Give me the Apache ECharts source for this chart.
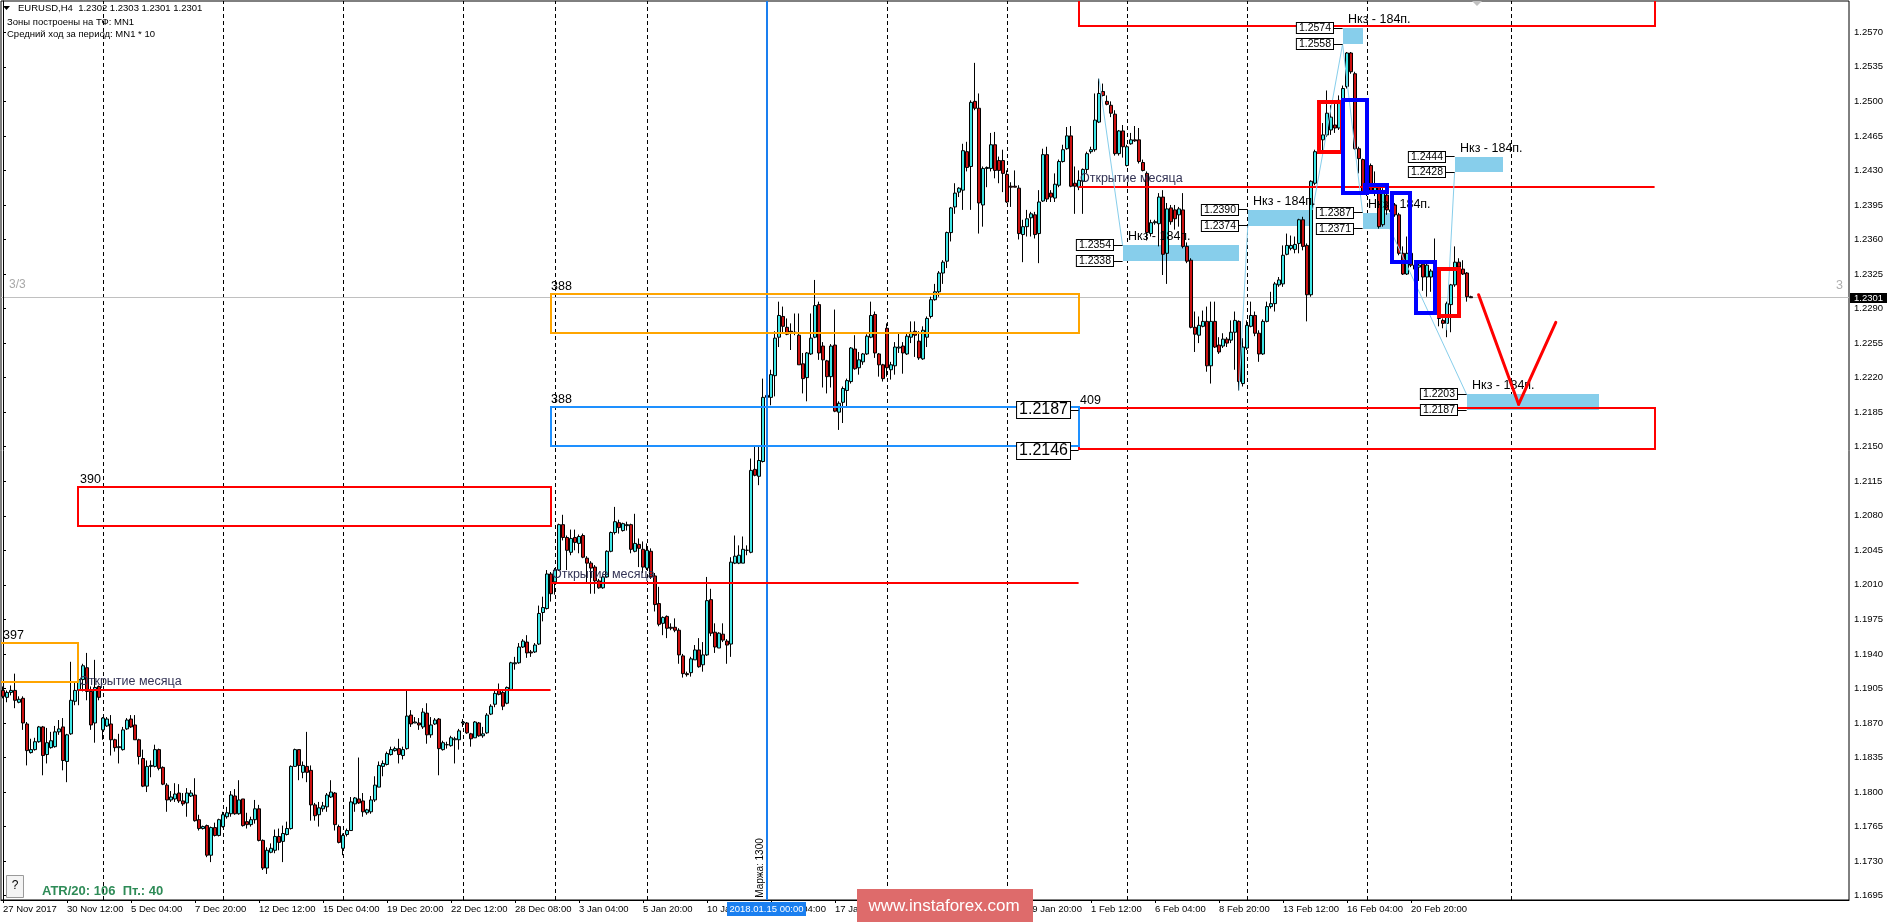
<!DOCTYPE html>
<html>
<head>
<meta charset="utf-8">
<title>EURUSD,H4</title>
<script src="https://cdn.jsdelivr.net/npm/echarts@6/dist/echarts.min.js"></script>
<style>
  html, body { margin: 0; padding: 0; background: #fff; }
  #chart { width: 1890px; height: 922px; }
</style>
</head>
<body>
<div id="chart"></div>
<script>
// EURUSD H4 bars, one row per bar: [open, high, low, close]
const ohlc = [
  [1.1903,1.1907,1.1895,1.1897],[1.1896,1.1903,1.1891,1.1901],[1.1901,1.1908,1.1898,1.1903],[1.1903,1.1920,1.1885,1.1893],[1.1891,1.1897,1.1890,1.1894],[1.1895,1.1897,1.1863,1.1870],
  [1.1869,1.1871,1.1827,1.1842],[1.1840,1.1854,1.1839,1.1843],[1.1843,1.1855,1.1842,1.1851],[1.1851,1.1867,1.1850,1.1866],[1.1866,1.1867,1.1817,1.1837],[1.1838,1.1865,1.1829,1.1850],
  [1.1845,1.1861,1.1844,1.1852],[1.1846,1.1867,1.1845,1.1861],[1.1861,1.1873,1.1858,1.1864],[1.1866,1.1875,1.1822,1.1832],[1.1831,1.1859,1.1810,1.1858],[1.1859,1.1932,1.1858,1.1893],
  [1.1892,1.1912,1.1888,1.1903],[1.1903,1.1920,1.1888,1.1914],[1.1914,1.1930,1.1902,1.1928],[1.1926,1.1941,1.1893,1.1902],[1.1902,1.1907,1.1863,1.1868],[1.1870,1.1934,1.1850,1.1906],
  [1.1907,1.1908,1.1893,1.1896],[1.1863,1.1876,1.1853,1.1875],[1.1867,1.1876,1.1866,1.1874],[1.1869,1.1878,1.1837,1.1853],[1.1853,1.1854,1.1841,1.1845],[1.1845,1.1859,1.1829,1.1846],
  [1.1843,1.1866,1.1842,1.1863],[1.1864,1.1875,1.1863,1.1873],[1.1874,1.1878,1.1865,1.1866],[1.1868,1.1878,1.1853,1.1853],[1.1853,1.1854,1.1828,1.1836],[1.1834,1.1843,1.1805,1.1806],
  [1.1806,1.1832,1.1800,1.1826],[1.1826,1.1832,1.1815,1.1827],[1.1826,1.1848,1.1825,1.1843],[1.1843,1.1844,1.1822,1.1824],[1.1825,1.1826,1.1807,1.1808],[1.1807,1.1809,1.1780,1.1792],
  [1.1792,1.1801,1.1790,1.1795],[1.1793,1.1809,1.1790,1.1798],[1.1799,1.1808,1.1789,1.1791],[1.1791,1.1799,1.1786,1.1788],[1.1789,1.1804,1.1775,1.1799],[1.1796,1.1802,1.1795,1.1799],
  [1.1797,1.1814,1.1770,1.1771],[1.1772,1.1777,1.1761,1.1763],[1.1763,1.1766,1.1762,1.1765],[1.1766,1.1767,1.1734,1.1736],[1.1736,1.1765,1.1729,1.1764],[1.1764,1.1769,1.1755,1.1756],
  [1.1756,1.1773,1.1755,1.1772],[1.1765,1.1780,1.1764,1.1777],[1.1775,1.1785,1.1773,1.1779],[1.1778,1.1801,1.1775,1.1797],[1.1796,1.1803,1.1777,1.1778],[1.1778,1.1812,1.1777,1.1792],
  [1.1793,1.1793,1.1765,1.1766],[1.1770,1.1779,1.1763,1.1767],[1.1767,1.1775,1.1765,1.1772],[1.1772,1.1792,1.1768,1.1783],[1.1783,1.1787,1.1750,1.1751],[1.1751,1.1752,1.1721,1.1723],
  [1.1723,1.1744,1.1717,1.1741],[1.1739,1.1748,1.1738,1.1743],[1.1741,1.1762,1.1738,1.1755],[1.1755,1.1763,1.1741,1.1749],[1.1750,1.1766,1.1729,1.1758],[1.1757,1.1770,1.1756,1.1763],
  [1.1763,1.1827,1.1762,1.1826],[1.1826,1.1844,1.1826,1.1843],[1.1843,1.1843,1.1812,1.1827],[1.1820,1.1831,1.1814,1.1827],[1.1826,1.1861,1.1810,1.1820],[1.1822,1.1827,1.1771,1.1787],
  [1.1787,1.1789,1.1771,1.1776],[1.1777,1.1790,1.1765,1.1784],[1.1783,1.1790,1.1780,1.1786],[1.1785,1.1799,1.1780,1.1797],[1.1795,1.1812,1.1794,1.1800],[1.1799,1.1800,1.1761,1.1767],
  [1.1765,1.1767,1.1748,1.1749],[1.1743,1.1758,1.1736,1.1756],[1.1757,1.1763,1.1755,1.1761],[1.1761,1.1795,1.1761,1.1790],[1.1788,1.1795,1.1780,1.1794],[1.1793,1.1835,1.1788,1.1789],
  [1.1791,1.1799,1.1775,1.1780],[1.1779,1.1783,1.1777,1.1782],[1.1780,1.1796,1.1778,1.1792],[1.1792,1.1816,1.1790,1.1807],[1.1805,1.1831,1.1805,1.1827],[1.1826,1.1832,1.1816,1.1829],
  [1.1828,1.1841,1.1827,1.1839],[1.1838,1.1846,1.1837,1.1843],[1.1842,1.1846,1.1841,1.1844],[1.1844,1.1854,1.1829,1.1838],[1.1837,1.1846,1.1833,1.1843],[1.1844,1.1903,1.1843,1.1877],
  [1.1878,1.1883,1.1866,1.1869],[1.1870,1.1876,1.1870,1.1871],[1.1870,1.1875,1.1863,1.1868],[1.1866,1.1885,1.1864,1.1881],[1.1880,1.1890,1.1849,1.1858],[1.1858,1.1876,1.1855,1.1868],
  [1.1869,1.1875,1.1868,1.1873],[1.1874,1.1875,1.1817,1.1844],[1.1843,1.1852,1.1842,1.1850],[1.1848,1.1851,1.1844,1.1848],[1.1847,1.1857,1.1846,1.1855],[1.1853,1.1856,1.1829,1.1854],
  [1.1853,1.1864,1.1843,1.1862],[1.1870,1.1874,1.1866,1.1871],[1.1870,1.1871,1.1859,1.1860],[1.1859,1.1860,1.1846,1.1854],[1.1855,1.1872,1.1855,1.1871],[1.1870,1.1871,1.1856,1.1857],
  [1.1857,1.1866,1.1855,1.1859],[1.1860,1.1880,1.1859,1.1878],[1.1879,1.1889,1.1878,1.1887],[1.1889,1.1903,1.1886,1.1900],[1.1903,1.1910,1.1898,1.1899],[1.1901,1.1903,1.1883,1.1887],
  [1.1890,1.1907,1.1889,1.1906],[1.1904,1.1932,1.1903,1.1931],[1.1930,1.1937,1.1924,1.1931],[1.1931,1.1951,1.1930,1.1947],[1.1947,1.1955,1.1946,1.1953],[1.1952,1.1959,1.1936,1.1941],
  [1.1942,1.1944,1.1937,1.1941],[1.1942,1.1951,1.1941,1.1949],[1.1950,1.1989,1.1949,1.1981],[1.1982,1.1998,1.1973,1.1987],[1.1986,1.2025,1.1985,1.2021],[1.2021,1.2023,1.1993,1.2001],
  [1.2013,1.2027,1.2000,1.2025],[1.2025,1.2072,1.2024,1.2071],[1.2071,1.2081,1.2055,1.2058],[1.2058,1.2060,1.2025,1.2045],[1.2043,1.2066,1.2040,1.2057],[1.2058,1.2066,1.2045,1.2053],
  [1.2052,1.2061,1.2042,1.2059],[1.2060,1.2062,1.2037,1.2038],[1.2037,1.2039,1.2012,1.2032],[1.2032,1.2034,1.2001,1.2027],[1.2028,1.2030,1.2001,1.2014],[1.2014,1.2016,1.2006,1.2007],
  [1.2007,1.2020,1.2006,1.2018],[1.2018,1.2045,1.2017,1.2044],[1.2044,1.2064,1.2043,1.2063],[1.2063,1.2089,1.2061,1.2074],[1.2073,1.2076,1.2062,1.2068],[1.2065,1.2073,1.2064,1.2072],
  [1.2070,1.2074,1.2065,1.2071],[1.2071,1.2072,1.2042,1.2046],[1.2044,1.2082,1.2043,1.2052],[1.2051,1.2057,1.2028,1.2047],[1.2046,1.2054,1.2022,1.2028],[1.2027,1.2052,1.2025,1.2045],
  [1.2044,1.2047,1.2016,1.2018],[1.2019,1.2022,1.1983,1.1990],[1.1991,1.2008,1.1968,1.1970],[1.1971,1.1978,1.1959,1.1977],[1.1978,1.1979,1.1956,1.1966],[1.1967,1.1971,1.1964,1.1966],
  [1.1967,1.1976,1.1962,1.1964],[1.1964,1.1966,1.1930,1.1939],[1.1938,1.1940,1.1916,1.1920],[1.1920,1.1922,1.1917,1.1919],[1.1921,1.1937,1.1917,1.1935],[1.1934,1.1949,1.1934,1.1944],
  [1.1944,1.1956,1.1926,1.1927],[1.1929,1.1952,1.1922,1.1939],[1.1939,1.2018,1.1938,1.1994],[1.1995,1.2006,1.1958,1.1961],[1.1962,1.1971,1.1941,1.1947],[1.1946,1.1962,1.1946,1.1961],
  [1.1960,1.1971,1.1952,1.1954],[1.1953,1.1955,1.1930,1.1949],[1.1950,1.2038,1.1937,1.2033],[1.2032,1.2060,1.2031,1.2039],[1.2032,1.2050,1.2031,1.2040],[1.2032,1.2059,1.2032,1.2046],
  [1.2045,1.2050,1.2040,1.2045],[1.2043,1.2138,1.2042,1.2126],[1.2127,1.2150,1.2120,1.2121],[1.2120,1.2150,1.2111,1.2136],[1.2135,1.2219,1.2134,1.2200],[1.2200,1.2214,1.2192,1.2202],
  [1.2200,1.2228,1.2192,1.2223],[1.2222,1.2267,1.2201,1.2260],[1.2261,1.2297,1.2251,1.2283],[1.2282,1.2292,1.2266,1.2272],[1.2271,1.2280,1.2263,1.2264],[1.2267,1.2275,1.2248,1.2266],
  [1.2266,1.2285,1.2263,1.2265],[1.2263,1.2285,1.2233,1.2233],[1.2234,1.2245,1.2204,1.2219],[1.2220,1.2246,1.2196,1.2245],[1.2244,1.2285,1.2243,1.2260],[1.2261,1.2319,1.2260,1.2293],
  [1.2294,1.2297,1.2238,1.2245],[1.2252,1.2256,1.2210,1.2238],[1.2237,1.2238,1.2204,1.2221],[1.2221,1.2254,1.2210,1.2252],[1.2253,1.2289,1.2185,1.2186],[1.2185,1.2196,1.2167,1.2194],
  [1.2195,1.2211,1.2174,1.2209],[1.2207,1.2219,1.2191,1.2217],[1.2216,1.2251,1.2214,1.2250],[1.2249,1.2263,1.2228,1.2229],[1.2230,1.2246,1.2223,1.2238],[1.2236,1.2245,1.2233,1.2244],
  [1.2244,1.2264,1.2243,1.2262],[1.2261,1.2297,1.2260,1.2283],[1.2284,1.2287,1.2240,1.2245],[1.2244,1.2245,1.2221,1.2233],[1.2233,1.2234,1.2216,1.2219],[1.2270,1.2275,1.2221,1.2230],
  [1.2228,1.2236,1.2218,1.2233],[1.2232,1.2256,1.2223,1.2251],[1.2250,1.2266,1.2245,1.2251],[1.2252,1.2256,1.2224,1.2245],[1.2244,1.2265,1.2243,1.2262],[1.2261,1.2277,1.2255,1.2266],
  [1.2267,1.2277,1.2241,1.2263],[1.2257,1.2267,1.2238,1.2240],[1.2239,1.2272,1.2238,1.2268],[1.2261,1.2282,1.2251,1.2280],[1.2282,1.2302,1.2280,1.2299],[1.2299,1.2315,1.2298,1.2307],
  [1.2307,1.2328,1.2302,1.2326],[1.2326,1.2339,1.2315,1.2337],[1.2338,1.2368,1.2331,1.2367],[1.2367,1.2393,1.2358,1.2392],[1.2393,1.2417,1.2386,1.2407],[1.2408,1.2413,1.2403,1.2412],
  [1.2410,1.2457,1.2390,1.2450],[1.2449,1.2459,1.2429,1.2433],[1.2434,1.2501,1.2390,1.2499],[1.2500,1.2539,1.2491,1.2493],[1.2493,1.2508,1.2366,1.2397],[1.2395,1.2434,1.2373,1.2432],
  [1.2432,1.2434,1.2413,1.2433],[1.2432,1.2468,1.2429,1.2456],[1.2456,1.2469,1.2422,1.2430],[1.2440,1.2444,1.2417,1.2430],[1.2440,1.2451,1.2408,1.2427],[1.2426,1.2430,1.2397,1.2398],
  [1.2414,1.2418,1.2393,1.2413],[1.2414,1.2430,1.2413,1.2413],[1.2412,1.2415,1.2360,1.2366],[1.2365,1.2380,1.2337,1.2373],[1.2373,1.2390,1.2363,1.2381],[1.2382,1.2388,1.2363,1.2386],
  [1.2385,1.2388,1.2361,1.2365],[1.2366,1.2410,1.2336,1.2398],[1.2399,1.2452,1.2398,1.2446],[1.2446,1.2454,1.2398,1.2401],[1.2407,1.2410,1.2398,1.2403],[1.2402,1.2427,1.2398,1.2416],
  [1.2415,1.2441,1.2413,1.2439],[1.2439,1.2456,1.2438,1.2451],[1.2452,1.2474,1.2451,1.2465],[1.2465,1.2475,1.2413,1.2414],[1.2417,1.2434,1.2386,1.2414],[1.2413,1.2430,1.2410,1.2420],
  [1.2419,1.2432,1.2386,1.2431],[1.2431,1.2449,1.2427,1.2447],[1.2449,1.2454,1.2447,1.2451],[1.2451,1.2508,1.2449,1.2481],[1.2479,1.2523,1.2478,1.2508],[1.2510,1.2518,1.2505,1.2506],
  [1.2500,1.2506,1.2496,1.2497],[1.2496,1.2500,1.2484,1.2488],[1.2487,1.2491,1.2445,1.2447],[1.2447,1.2471,1.2445,1.2470],[1.2470,1.2476,1.2443,1.2454],[1.2435,1.2456,1.2434,1.2454],
  [1.2457,1.2468,1.2456,1.2461],[1.2461,1.2475,1.2459,1.2460],[1.2461,1.2473,1.2437,1.2439],[1.2438,1.2441,1.2429,1.2430],[1.2427,1.2429,1.2359,1.2367],[1.2366,1.2380,1.2363,1.2377],
  [1.2377,1.2380,1.2375,1.2378],[1.2376,1.2407,1.2353,1.2403],[1.2403,1.2410,1.2324,1.2345],[1.2346,1.2397,1.2315,1.2391],[1.2392,1.2395,1.2375,1.2378],[1.2390,1.2395,1.2370,1.2381],
  [1.2385,1.2393,1.2373,1.2391],[1.2390,1.2407,1.2351,1.2353],[1.2353,1.2357,1.2336,1.2338],[1.2339,1.2341,1.2270,1.2271],[1.2271,1.2287,1.2246,1.2264],[1.2263,1.2282,1.2255,1.2273],
  [1.2272,1.2288,1.2271,1.2277],[1.2277,1.2292,1.2226,1.2232],[1.2232,1.2297,1.2214,1.2277],[1.2277,1.2297,1.2250,1.2251],[1.2253,1.2261,1.2244,1.2246],[1.2252,1.2265,1.2250,1.2259],
  [1.2259,1.2261,1.2251,1.2255],[1.2258,1.2278,1.2255,1.2266],[1.2266,1.2287,1.2228,1.2278],[1.2277,1.2278,1.2207,1.2216],[1.2214,1.2260,1.2211,1.2251],[1.2250,1.2278,1.2248,1.2273],
  [1.2272,1.2297,1.2271,1.2283],[1.2283,1.2287,1.2262,1.2265],[1.2265,1.2268,1.2236,1.2244],[1.2244,1.2279,1.2243,1.2277],[1.2277,1.2297,1.2276,1.2292],[1.2292,1.2307,1.2290,1.2295],
  [1.2295,1.2317,1.2287,1.2315],[1.2314,1.2322,1.2312,1.2319],[1.2315,1.2354,1.2312,1.2344],[1.2345,1.2366,1.2344,1.2354],[1.2351,1.2364,1.2349,1.2354],[1.2350,1.2363,1.2346,1.2355],
  [1.2356,1.2381,1.2346,1.2380],[1.2380,1.2383,1.2349,1.2353],[1.2354,1.2356,1.2277,1.2304],[1.2304,1.2420,1.2302,1.2419],[1.2417,1.2451,1.2415,1.2449],[1.2449,1.2468,1.2447,1.2462],
  [1.2461,1.2478,1.2450,1.2466],[1.2466,1.2511,1.2464,1.2488],[1.2471,1.2496,1.2466,1.2484],[1.2476,1.2498,1.2468,1.2473],[1.2473,1.2506,1.2471,1.2501],[1.2501,1.2516,1.2499,1.2513],
  [1.2515,1.2550,1.2513,1.2549],[1.2549,1.2550,1.2528,1.2530],[1.2528,1.2530,1.2451,1.2452],[1.2452,1.2454,1.2427,1.2442],[1.2441,1.2442,1.2407,1.2408],[1.2408,1.2434,1.2404,1.2430],
  [1.2435,1.2437,1.2407,1.2408],[1.2408,1.2429,1.2404,1.2414],[1.2413,1.2415,1.2371,1.2373],[1.2375,1.2412,1.2373,1.2407],[1.2405,1.2410,1.2385,1.2390],[1.2390,1.2396,1.2380,1.2388],
  [1.2395,1.2397,1.2383,1.2385],[1.2385,1.2387,1.2344,1.2346],[1.2346,1.2353,1.2324,1.2325],[1.2325,1.2363,1.2324,1.2346],[1.2346,1.2348,1.2332,1.2334],[1.2334,1.2337,1.2320,1.2330],
  [1.2332,1.2336,1.2318,1.2334],[1.2335,1.2336,1.2308,1.2322],[1.2322,1.2336,1.2302,1.2334],[1.2322,1.2330,1.2307,1.2328],[1.2332,1.2361,1.2315,1.2317],[1.2317,1.2320,1.2272,1.2280],
  [1.2278,1.2280,1.2270,1.2275],[1.2275,1.2297,1.2261,1.2295],[1.2294,1.2315,1.2266,1.2314],[1.2314,1.2353,1.2312,1.2337],[1.2337,1.2341,1.2327,1.2332],[1.2330,1.2339,1.2324,1.2325],
  [1.2326,1.2327,1.2297,1.2302],[1.2302,1.2303,1.2301,1.2301]
];

// bottom axis: bar index of each time label and its text
const tickBars = [0, 16, 32, 48, 64, 80, 96, 112, 128, 144, 160, 176, 192, 208, 224, 240, 256, 272, 288, 304, 320, 336, 352];
const tickLabels = ['27 Nov 2017', '30 Nov 12:00', '5 Dec 04:00', '7 Dec 20:00', '12 Dec 12:00', '15 Dec 04:00',
  '19 Dec 20:00', '22 Dec 12:00', '28 Dec 08:00', '3 Jan 04:00', '5 Jan 20:00', '10 Jan 12:00', '15 Jan 04:00',
  '17 Jan 20:00', '22 Jan 12:00', '25 Jan 04:00', '29 Jan 20:00', '1 Feb 12:00', '6 Feb 04:00', '8 Feb 20:00',
  '13 Feb 12:00', '16 Feb 04:00', '20 Feb 20:00'];
// right axis price labels
const priceTicks = [1.2570, 1.2535, 1.2500, 1.2465, 1.2430, 1.2395, 1.2360, 1.2325, 1.2290, 1.2255, 1.2220, 1.2185,
  1.2150, 1.2115, 1.2080, 1.2045, 1.2010, 1.1975, 1.1940, 1.1905, 1.1870, 1.1835, 1.1800, 1.1765, 1.1730, 1.1695];

// week separators (bar index), margin line bar, last price
const weekBars = [25, 55, 85, 115, 138, 161, 221, 251, 281, 311, 341, 377];
const marginBar = 191;
const lastPrice = 1.2301;

// monthly zones: [fromBar, toBar, lowPrice, highPrice]
const orangeZones = [[-1, 18.8, 1.1912, 1.1951], [136.9, 268.9, 1.2265, 1.2305]];
const redZones = [[18.8, 136.9, 1.2070, 1.2109], [268.9, 412.9, 1.2148, 1.2189], [268.9, 412.9, 1.2576, 1.2700]];
const blueZones = [[136.9, 268.9, 1.2151, 1.2190]];
const zoneLabelAt = [[-0.1, 1.1951], [19.2, 1.2109], [136.9, 1.2305], [136.9, 1.2190], [269.2, 1.2189]];
const zoneLabels = ['397', '390', '388', '388', '409'];
// month open lines: [fromBar, toBar, price]
const monthOpen = [[18.8, 136.9, 1.1903], [136.9, 268.9, 1.2012], [268.9, 412.9, 1.2413]];

// target boxes "Нкз - 184п.": [fromBar, toBar, lowPrice, highPrice]
const nkzBoxes = [[334.9, 339.9, 1.2558, 1.2574], [311.2, 327.4, 1.2374, 1.2390], [279.9, 308.9, 1.2338, 1.2354],
  [339.9, 346.7, 1.2371, 1.2387], [362.9, 374.9, 1.2428, 1.2444], [365.9, 398.9, 1.2187, 1.2203]];
// the two big price tags on the January zone: [rightBar, price]
const bigTags = [[266.7, 1.2187], [266.7, 1.2146]];

// thick frames drawn over the last swing
const redBlocks = [[329.1, 334.8, 1.2449, 1.2499], [359.1, 363.9, 1.2282, 1.2330]];
const blueBlocks = [[335.1, 340.9, 1.2407, 1.2501], [340.4, 345.9, 1.2408, 1.2415],
  [347.2, 351.8, 1.2337, 1.2407], [353.2, 357.9, 1.2286, 1.2337]];
// thin zigzag links: [bar1, price1, bar2, price2]
const zigzag = [[274, 1.2523, 279.9, 1.2354], [309, 1.2207, 311.2, 1.2374], [327.4, 1.2390, 334.9, 1.2558],
  [334.9, 1.2558, 339.9, 1.2387], [346.7, 1.2371, 365.9, 1.2203], [360.8, 1.2268, 362.9, 1.2428]];
// forecast arrow
const arrowPts = [[368.9, 1.2304], [378.9, 1.2193], [388.2, 1.2276]];

const headerLines = ['EURUSD,H4  1.2302 1.2303 1.2301 1.2301', 'Зоны построены на ТФ: MN1', 'Средний ход за период: MN1 * 10'];

const N_SLOTS = 462;
const yMin = 1.16906, yMax = 1.26017;
const FONT = '"Liberation Sans", Arial, sans-serif';
const font = (size, weight) => (weight ? weight + ' ' : '') + size + 'px ' + FONT;

const categories = Array.from({ length: N_SLOTS }, (_, i) => {
  const k = tickBars.indexOf(i);
  return k >= 0 ? tickLabels[k] : '';
});
const labelled = (i, v) => v !== '';

// sharp 1px lines
const crisp = (v, w) => (w % 2 ? Math.round(v - 0.5) + 0.5 : Math.round(v));

function lineSeries(segments, style, z) {
  return {
    type: 'custom', xAxisIndex: 1, yAxisIndex: 0, z, clip: true, silent: true,
    data: segments,
    renderItem(params, api) {
      let a = api.coord([api.value(0), api.value(1)]);
      let b = api.coord([api.value(2), api.value(3)]);
      const w = style.lineWidth || 1;
      if (Math.abs(a[0] - b[0]) < 0.01) { a[0] = b[0] = crisp(a[0], w); }
      if (Math.abs(a[1] - b[1]) < 0.01) { a[1] = b[1] = crisp(a[1], w); }
      return { type: 'line', shape: { x1: a[0], y1: a[1], x2: b[0], y2: b[1] }, style: Object.assign({}, style) };
    },
  };
}

function boxSeries(boxes, style, z) {
  return {
    type: 'custom', xAxisIndex: 1, yAxisIndex: 0, z, clip: true, silent: true,
    data: boxes,
    renderItem(params, api) {
      const a = api.coord([api.value(0), api.value(3)]);
      const b = api.coord([api.value(1), api.value(2)]);
      const w = style.fill && style.fill !== 'none' ? 0 : (style.lineWidth || 1);
      const x1 = crisp(a[0], w), y1 = crisp(a[1], w), x2 = crisp(b[0], w), y2 = crisp(b[1], w);
      return { type: 'rect', shape: { x: x1, y: y1, width: x2 - x1, height: y2 - y1 }, style: Object.assign({}, style) };
    },
  };
}

function textSeries(points, texts, style, dx, dy, z) {
  return {
    type: 'custom', xAxisIndex: 1, yAxisIndex: 0, z, clip: true, silent: true,
    data: points,
    renderItem(params, api) {
      const p = api.coord([api.value(0), api.value(1)]);
      return {
        type: 'text', x: Math.round(p[0] + dx), y: Math.round(p[1] + dy),
        style: Object.assign({ text: texts[params.dataIndex] }, style),
      };
    },
  };
}

const tagStyle = {
  fill: '#000', font: font(10.5), align: 'right', verticalAlign: 'middle',
  backgroundColor: '#fff', borderColor: '#000', borderWidth: 1, padding: [0, 2], lineHeight: 10,
};

const tagPoints = [], tagTexts = [], tagLinks = [];
nkzBoxes.forEach(([x0, , lo, hi]) => {
  [hi, lo].forEach(p => {
    tagPoints.push([x0 - 2.5, p]);
    tagTexts.push(p.toFixed(4));
    tagLinks.push([x0 - 2.5, p, x0, p]);
  });
});
bigTags.forEach(([x, p]) => tagLinks.push([x, p, x + 2.2, p]));

const arrowSegs = arrowPts.slice(1).map((p, i) => [arrowPts[i][0], arrowPts[i][1], p[0], p[1]]);

const series = [
  {
    type: 'candlestick', xAxisIndex: 0, yAxisIndex: 0, z: 2, silent: true, large: false,
    barWidth: 3,
    data: ohlc.map(([o, h, l, c]) => [o, c, l, h]),
    itemStyle: { color: '#3ee6e6', color0: '#cc1111', borderColor: '#000', borderColor0: '#000', borderWidth: 1 },
  },
  lineSeries(weekBars.map(b => [b, yMin, b, yMax]), { stroke: '#000', lineWidth: 1, lineDash: [4, 3] }, 0),
  lineSeries([[-0.5, lastPrice, N_SLOTS - 0.5, lastPrice]], { stroke: '#c0c0c0', lineWidth: 1 }, 0),
  boxSeries(nkzBoxes, { fill: '#87ceeb' }, 1),
  lineSeries([[marginBar, yMin, marginBar, yMax]], { stroke: '#1a7ff0', lineWidth: 2 }, 3),
  boxSeries(orangeZones, { fill: 'none', stroke: '#ffa500', lineWidth: 2 }, 3),
  boxSeries(redZones, { fill: 'none', stroke: '#ff0000', lineWidth: 2 }, 3),
  boxSeries(blueZones, { fill: 'none', stroke: '#1e90ff', lineWidth: 2 }, 3),
  lineSeries(monthOpen.map(([a, b, p]) => [a, p, b, p]), { stroke: '#ff0000', lineWidth: 2 }, 3),
  lineSeries(zigzag, { stroke: '#87ceeb', lineWidth: 1 }, 3),
  lineSeries(tagLinks, { stroke: '#000', lineWidth: 1 }, 4),
  textSeries(zoneLabelAt, zoneLabels, { fill: '#000', font: font(12.5), align: 'left', verticalAlign: 'bottom' }, 0, -1, 4),
  textSeries(monthOpen.map(([a, , p]) => [a, p]), monthOpen.map(() => 'Открытие месяца'),
    { fill: '#333355', font: font(12.5), align: 'left', verticalAlign: 'bottom' }, 1, -2, 4),
  textSeries(nkzBoxes.map(([a, , , hi]) => [a, hi]), nkzBoxes.map(() => 'Нкз - 184п.'),
    { fill: '#000', font: font(12.5), align: 'left', verticalAlign: 'bottom' }, 5, -2, 4),
  textSeries(tagPoints, tagTexts, tagStyle, 0, 0, 5),
  textSeries(bigTags, bigTags.map(([, p]) => p.toFixed(4)),
    Object.assign({}, tagStyle, { font: font(16), lineHeight: 16, padding: [0, 2] }), 0, 0, 5),
  boxSeries(redBlocks, { fill: 'none', stroke: '#ff0000', lineWidth: 4 }, 6),
  boxSeries(blueBlocks, { fill: 'none', stroke: '#0000ff', lineWidth: 4 }, 6),
  lineSeries(arrowSegs, { stroke: '#ff0000', lineWidth: 3, lineCap: 'round' }, 6),
];

const graphics = [
  { type: 'polygon', shape: { points: [[3, 6], [10, 6], [6.5, 10]] }, style: { fill: '#000' }, z: 100 },
  { type: 'text', x: 18, y: 8.5, style: { text: headerLines[0], font: font(9.5), fill: '#000', verticalAlign: 'middle' }, z: 100 },
  { type: 'text', x: 7, y: 22.5, style: { text: headerLines[1], font: font(9.5), fill: '#000', verticalAlign: 'middle' }, z: 100 },
  { type: 'text', x: 7, y: 34, style: { text: headerLines[2], font: font(9.5), fill: '#000', verticalAlign: 'middle' }, z: 100 },
  { type: 'polygon', shape: { points: [[1472, 1], [1482, 1], [1477, 6]] }, style: { fill: '#c0c0c0' }, z: 100 },
  { type: 'text', x: 42, y: 891, style: { text: 'ATR/20: 106  Пт.: 40', font: font(13, 'bold'), fill: '#2e8b57', verticalAlign: 'middle' }, z: 100 },
  { type: 'rect', shape: { x: 6.5, y: 875.5, width: 17, height: 22 }, style: { fill: '#f4f4f4', stroke: '#9a9a9a', lineWidth: 1 }, z: 100 },
  { type: 'text', x: 15, y: 886, style: { text: '?', font: font(12), fill: '#000', align: 'center', verticalAlign: 'middle' }, z: 101 },
  { type: 'text', x: 760, y: 868, rotation: Math.PI / 2, style: { text: 'Маржа: 1300', font: font(10), fill: '#000', align: 'center', verticalAlign: 'middle' }, z: 100 },
  { type: 'rect', shape: { x: 727, y: 902, width: 79, height: 14 }, style: { fill: '#1a7ff0' }, z: 100 },
  { type: 'text', x: 766.5, y: 909, style: { text: '2018.01.15 00:00', font: font(9.5), fill: '#fff', align: 'center', verticalAlign: 'middle' }, z: 101 },
  { type: 'rect', shape: { x: 857, y: 889, width: 176, height: 33 }, style: { fill: '#de6b6b' }, z: 110 },
  { type: 'text', x: 944, y: 906, style: { text: 'www.instaforex.com', font: font(17), fill: '#fff', align: 'center', verticalAlign: 'middle' }, z: 111 },
];

const chart = echarts.init(document.getElementById('chart'), null, { renderer: 'canvas' });
chart.setOption({
  animation: false,
  backgroundColor: '#fff',
  textStyle: { fontFamily: FONT },
  grid: { left: 1, right: 41, top: 1, bottom: 22, show: true, borderColor: '#000', borderWidth: 1, containLabel: false, outerBoundsMode: 'none' },
  xAxis: [
    {
      type: 'category', data: categories, boundaryGap: true,
      axisLine: { show: true, lineStyle: { color: '#000', width: 1 } },
      axisTick: { show: true, alignWithLabel: true, interval: labelled, length: 3, lineStyle: { color: '#000' } },
      axisLabel: { interval: labelled, align: 'left', margin: 4, color: '#000', fontSize: 9.5, fontFamily: FONT, hideOverlap: false },
      splitLine: { show: false },
    },
    { type: 'value', min: -0.5, max: N_SLOTS - 0.5, show: false },
  ],
  yAxis: [{
    type: 'value', position: 'right', min: yMin, max: yMax, scale: true,
    splitLine: { show: false },
    axisLine: { show: true, lineStyle: { color: '#000', width: 1 } },
    axisTick: { show: true, length: 3, customValues: priceTicks, lineStyle: { color: '#000' } },
    axisLabel: { customValues: priceTicks, formatter: v => v.toFixed(4), color: '#000', fontSize: 9.5, fontFamily: FONT, margin: 5 },
  }],
  series,
  graphic: graphics,
});

// last price marker on the right scale, the "3/3" level captions
const py = chart.convertToPixel({ yAxisIndex: 0 }, lastPrice);
chart.setOption({
  graphic: graphics.concat([
    { type: 'rect', shape: { x: 1850, y: Math.round(py) - 5, width: 37, height: 10 }, style: { fill: '#000' }, z: 120 },
    { type: 'text', x: 1868.5, y: Math.round(py), style: { text: lastPrice.toFixed(4), font: font(9.5), fill: '#fff', align: 'center', verticalAlign: 'middle' }, z: 121 },
    { type: 'text', x: 9, y: Math.round(py) - 13, style: { text: '3/3', font: font(12), fill: '#a8a8a8', verticalAlign: 'middle' }, z: 100 },
    { type: 'text', x: 1836, y: Math.round(py) - 12, style: { text: '3', font: font(12.5), fill: '#b0b0b0', verticalAlign: 'middle' }, z: 100 },
  ]),
});
</script>
</body>
</html>
